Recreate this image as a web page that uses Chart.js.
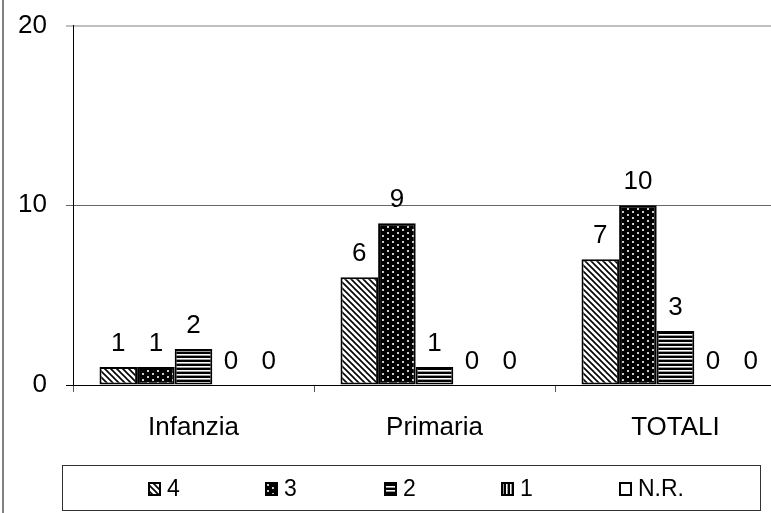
<!DOCTYPE html>
<html><head><meta charset="utf-8">
<script src="https://cdn.jsdelivr.net/npm/chart.js@4/dist/chart.umd.min.js"></script>
<style>
html,body{margin:0;padding:0;background:#fff;overflow:hidden;}
#wrap{position:absolute;left:0;top:0;width:800px;height:513px;}
</style></head>
<body>
<div id="wrap"><canvas id="c" width="800" height="513"></canvas></div>
<script>
const categories = ['Infanzia', 'Primaria', 'TOTALI'];
const seriesNames = ['4', '3', '2', '1', 'N.R.'];
const s4 = [1, 6, 7];
const s3 = [1, 9, 10];
const s2 = [2, 1, 3];
const s1 = [0, 0, 0];
const sNR = [0, 0, 0];
const yTicks = [0, 10, 20];

function makePattern(kind) {
  const t = document.createElement('canvas');
  const g = t.getContext('2d');
  if (kind === 'diag') {
    t.width = 6; t.height = 6;
    g.fillStyle = '#fff'; g.fillRect(0, 0, 6, 6);
    g.strokeStyle = '#000'; g.lineWidth = 1.6;
    g.beginPath();
    g.moveTo(-1, -1); g.lineTo(7, 7);
    g.moveTo(-4, 2); g.lineTo(4, 10);
    g.moveTo(2, -4); g.lineTo(10, 4);
    g.stroke();
  } else if (kind === 'dots') {
    t.width = 10; t.height = 6;
    g.fillStyle = '#000'; g.fillRect(0, 0, 10, 6);
    g.fillStyle = '#ccc';
    g.fillRect(2, 1, 2, 2);
    g.fillRect(7, 4, 2, 2);
  } else if (kind === 'hline') {
    t.width = 4; t.height = 4;
    g.fillStyle = '#fff'; g.fillRect(0, 0, 4, 4);
    g.fillStyle = '#000'; g.fillRect(0, 0, 4, 2);
    g.fillStyle = '#999'; g.fillRect(0, 3, 4, 1);
  } else if (kind === 'vline') {
    t.width = 4; t.height = 4;
    g.fillStyle = '#fff'; g.fillRect(0, 0, 4, 4);
    g.fillStyle = '#000'; g.fillRect(0, 0, 2, 4);
    g.fillStyle = '#999'; g.fillRect(3, 0, 1, 4);
  } else {
    t.width = 2; t.height = 2;
    g.fillStyle = '#fff'; g.fillRect(0, 0, 2, 2);
  }
  return document.getElementById('c').getContext('2d').createPattern(t, 'repeat');
}

const fills = [makePattern('diag'), makePattern('dots'), makePattern('hline'), makePattern('vline'), makePattern('white')];
const values = [s4, s3, s2, s1, sNR];

const datasets = values.map((v, i) => ({
  label: seriesNames[i],
  data: v,
  backgroundColor: fills[i],
  borderColor: '#000',
  borderWidth: 2,
  borderSkipped: false,
  categoryPercentage: 0.78,
  barPercentage: 1.0
}));

const FONT = 'Arial, "Liberation Sans", sans-serif';

const extras = {
  id: 'extras',
  afterDatasetsDraw(chart) {
    const ctx = chart.ctx;
    ctx.save();
    ctx.fillStyle = '#000';
    ctx.font = '26px ' + FONT;
    ctx.textAlign = 'center';
    ctx.textBaseline = 'alphabetic';
    chart.data.datasets.forEach((ds, di) => {
      const meta = chart.getDatasetMeta(di);
      meta.data.forEach((bar, j) => {
        ctx.fillText(String(ds.data[j]), bar.x, bar.y - 16);
      });
    });
    ctx.restore();
  },
  afterDraw(chart) {
    const ctx = chart.ctx;
    ctx.save();
    ctx.strokeStyle = '#808080';
    ctx.lineWidth = 2;
    ctx.beginPath(); ctx.moveTo(3, 0); ctx.lineTo(3, 513); ctx.stroke();
    ctx.strokeStyle = '#333';
    ctx.lineWidth = 1;
    ctx.strokeRect(62.5, 465.5, 698, 45);
    const xs = [148, 265, 384, 501, 619];
    ctx.font = '23px ' + FONT;
    ctx.textAlign = 'left';
    ctx.textBaseline = 'middle';
    chart.data.datasets.forEach((ds, i) => {
      const x = xs[i], y = 482;
      ctx.fillStyle = ds.backgroundColor;
      ctx.fillRect(x, y, 13, 14);
      ctx.strokeStyle = '#000';
      ctx.lineWidth = 2;
      ctx.strokeRect(x + 1, y + 1, 11, 12);
      ctx.fillStyle = '#000';
      ctx.fillText(ds.label, x + 19, 490);
    });
    ctx.restore();
  }
};

new Chart(document.getElementById('c'), {
  type: 'bar',
  data: { labels: categories, datasets },
  plugins: [extras],
  options: {
    responsive: false,
    animation: false,
    devicePixelRatio: 1,
    layout: { padding: { top: 24, right: 4, left: 0, bottom: 0 } },
    plugins: { legend: { display: false }, tooltip: { enabled: false } },
    scales: {
      x: {
        offset: true,
        grid: { display: true, drawOnChartArea: false, tickLength: 7, color: '#555', lineWidth: 1 },
        border: { display: true, color: '#000', width: 1 },
        ticks: { font: { size: 26, family: FONT }, color: '#000', padding: 20 },
        afterFit(scale) { scale.height = 128; }
      },
      y: {
        min: 0, max: 20,
        afterBuildTicks(scale) { scale.ticks = yTicks.map(v => ({ value: v })); },
        grid: {
          tickLength: 7,
          color: ctx => (ctx.tick && ctx.tick.value === 20) ? '#c0c0c0' : (ctx.tick && ctx.tick.value === 0 ? '#000' : '#666'),
          lineWidth: ctx => (ctx.tick && ctx.tick.value === 20) ? 2 : 1
        },
        border: { display: true, color: '#000', width: 1 },
        ticks: { font: { size: 26, family: FONT, lineHeight: 0.5 }, color: '#000', padding: 19 },
        afterFit(scale) { scale.width = 73; }
      }
    }
  }
});
</script>
</body></html>
